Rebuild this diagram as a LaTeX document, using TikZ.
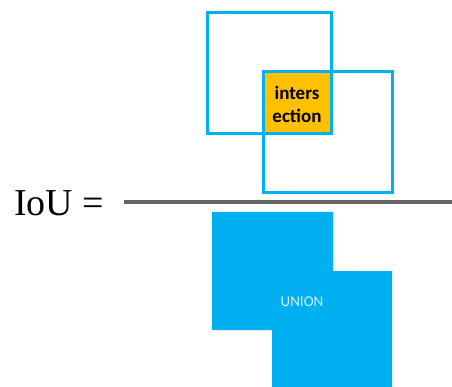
\documentclass[tikz,border=0pt]{standalone}
\usepackage{fontspec}
\setmainfont{Liberation Serif}
\newfontfamily\calib{Carlito}
\definecolor{boxblue}{HTML}{00B0F0}
\definecolor{isecorange}{HTML}{FFC000}
\definecolor{unionlabel}{HTML}{D6F0FC}
\begin{document}
\begin{tikzpicture}[x=1pt,y=-1pt,
  boxline/.style={draw=boxblue,line width=3pt},
  fracline/.style={draw=gray!80!black,line width=3.5pt}]
\useasboundingbox (0,0) rectangle (452,387);
% numerator
\fill[isecorange] (263,72) rectangle (331,134);
\draw[boxline] (207,13) rectangle (331,134);
\draw[boxline] (263,72) rectangle (392,193);
\node[font=\calib\bfseries\fontsize{19}{23}\selectfont, align=center, inner sep=0pt] (isec) at (297,104) {inters\\ection};
% fraction line
\node[anchor=base west, font=\fontsize{38}{42}\selectfont, inner sep=0pt] (iou) at (14,216) {IoU =};
\coordinate (fl) at (124,202);
\coordinate (fr) at (452,202);
\draw[fracline] (fl) -- (fr);
% denominator
\fill[boxblue] (212,212) -- (333,212) -- (333,271) -- (392,271) -- (392,388) -- (272,388) -- (272,330) -- (212,330) -- cycle;
\node[font=\calib\fontsize{15}{17}\selectfont, text=unionlabel, inner sep=0pt] (union) at (302,302) {UNION};
\end{tikzpicture}
\end{document}
